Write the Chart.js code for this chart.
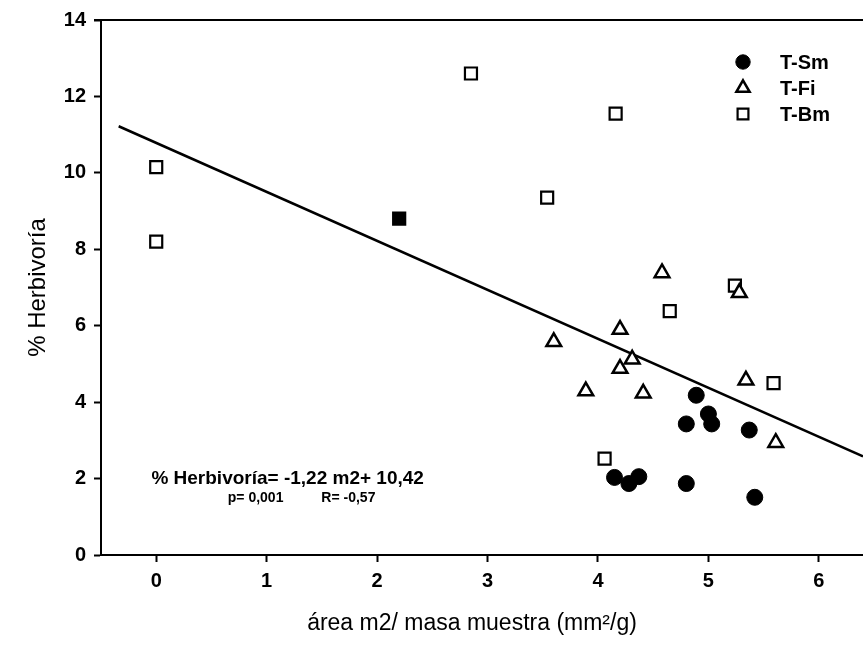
<!DOCTYPE html>
<html>
<head>
<meta charset="utf-8">
<title>% Herbivoría vs área/masa</title>
<script src="https://cdn.jsdelivr.net/npm/chart.js@4.4.0/dist/chart.umd.min.js"></script>
<style>
  html, body { margin: 0; padding: 0; background: #fff; }
  #wrap { width: 863px; height: 645px; }
</style>
</head>
<body>
<div id="wrap"><canvas id="herbChart" width="863" height="645"></canvas></div>
<script>
// Data
const xTicks = [0, 1, 2, 3, 4, 5, 6];
const yTicks = [0, 2, 4, 6, 8, 10, 12, 14];

const smX = [4.89, 5.00, 5.03, 4.80, 5.37, 4.15, 4.28, 4.37, 4.80, 5.42];
const smY = [4.18, 3.69, 3.43, 3.43, 3.27, 2.03, 1.87, 2.05, 1.87, 1.51];

const fiX = [4.58, 5.28, 4.20, 3.60, 4.31, 4.20, 3.89, 4.41, 5.34, 5.61];
const fiY = [7.38, 6.86, 5.90, 5.58, 5.12, 4.88, 4.29, 4.23, 4.57, 2.94];

const bmX = [0, 0, 2.85, 4.16, 3.54, 4.65, 5.24, 5.59, 4.06];
const bmY = [10.15, 8.2, 12.6, 11.55, 9.35, 6.38, 7.05, 4.5, 2.52];

// one T-Bm square is printed solid in the scan
const bmSolidX = [2.2];
const bmSolidY = [8.8];

// regression line as drawn
const fitX = [-0.34, 6.4];
const fitY = [11.22, 2.58];

const xTitle = 'área m2/ masa muestra (mm²/g)';
const eqMain = '% Herbivoría= -1,22 m2+ 10,42';
const eqP = 'p= 0,001';
const eqR = 'R= -0,57';

const FONT = "'Liberation Sans', Arial, sans-serif";

function pts(xs, ys) {
    return xs.map((v, i) => ({ x: v, y: ys[i] }));
}

// Legend drawn inside the plot, top right
const insideLegend = {
    id: 'insideLegend',
    afterDraw(chart) {
        const ctx = chart.ctx;
        ctx.save();
        ctx.font = 'bold 20px ' + FONT;
        ctx.textBaseline = 'middle';
        chart.data.datasets.slice(0, 3).forEach((ds, i) => {
            const yy = 62 + i * 26;
            ctx.lineWidth = ds.borderWidth;
            ctx.strokeStyle = ds.borderColor;
            ctx.fillStyle = ds.backgroundColor;
            Chart.helpers.drawPoint(ctx, {
                pointStyle: ds.pointStyle,
                radius: ds.pointRadius * 0.9,
                borderWidth: ds.borderWidth
            }, 743, yy);
            ctx.fillStyle = '#000';
            ctx.fillText(ds.label, 780, yy + 1);
        });
        ctx.restore();
    }
};

// top frame line, x title and regression text
const extras = {
    id: 'extras',
    afterDraw(chart) {
        const { ctx, chartArea, scales: { x, y } } = chart;
        ctx.save();
        ctx.strokeStyle = '#000';
        ctx.lineWidth = 2;
        ctx.beginPath();
        ctx.moveTo(chartArea.left - 7, chartArea.top);
        ctx.lineTo(chartArea.right, chartArea.top);
        ctx.stroke();

        ctx.fillStyle = '#000';
        ctx.textAlign = 'center';
        ctx.textBaseline = 'middle';
        ctx.font = '23px ' + FONT;
        ctx.fillText(xTitle, chartArea.left + 371, 624);

        ctx.font = 'bold 19px ' + FONT;
        ctx.fillText(eqMain, x.getPixelForValue(1.19), y.getPixelForValue(2.0));
        ctx.font = 'bold 14px ' + FONT;
        ctx.fillText(eqP, x.getPixelForValue(0.9), y.getPixelForValue(1.5));
        ctx.fillText(eqR, x.getPixelForValue(1.74), y.getPixelForValue(1.5));
        ctx.restore();
    }
};

const ctx = document.getElementById('herbChart').getContext('2d');

new Chart(ctx, {
    type: 'scatter',
    data: {
        datasets: [
            {
                label: 'T-Sm',
                data: pts(smX, smY),
                pointStyle: 'circle',
                pointRadius: 8,
                backgroundColor: '#000',
                borderColor: '#000',
                borderWidth: 1
            },
            {
                label: 'T-Fi',
                data: pts(fiX, fiY),
                pointStyle: 'triangle',
                pointRadius: 8.5,
                backgroundColor: '#fff',
                borderColor: '#000',
                borderWidth: 2.5
            },
            {
                label: 'T-Bm',
                data: pts(bmX, bmY),
                pointStyle: 'rect',
                pointRadius: 8.5,
                backgroundColor: '#fff',
                borderColor: '#000',
                borderWidth: 2.2
            },
            {
                label: 'T-Bm',
                data: pts(bmSolidX, bmSolidY),
                pointStyle: 'rect',
                pointRadius: 8.5,
                backgroundColor: '#000',
                borderColor: '#000',
                borderWidth: 2.2
            },
            {
                label: 'ajuste',
                data: pts(fitX, fitY),
                showLine: true,
                pointRadius: 0,
                borderColor: '#000',
                borderWidth: 2.5,
                order: 5
            }
        ]
    },
    options: {
        responsive: false,
        animation: false,
        layout: {
            autoPadding: false,
            padding: { top: 16, right: 0, left: 0, bottom: 0 }
        },
        plugins: {
            legend: { display: false },
            tooltip: { enabled: false }
        },
        scales: {
            x: {
                type: 'linear',
                min: -0.5,
                max: 6.4,
                afterBuildTicks: s => { s.ticks = xTicks.map(v => ({ value: v })); },
                afterFit: s => { s.height = 90; },
                grid: {
                    drawOnChartArea: false,
                    drawTicks: true,
                    tickLength: 7,
                    tickColor: '#000',
                    tickWidth: 2
                },
                border: { display: true, color: '#000', width: 2 },
                ticks: {
                    color: '#000',
                    padding: 7,
                    font: { family: FONT, size: 20, weight: 'bold' }
                },
                title: { display: false }
            },
            y: {
                min: 0,
                max: 14,
                afterBuildTicks: s => { s.ticks = yTicks.map(v => ({ value: v })); },
                afterFit: s => { s.width = 101; },
                grid: {
                    drawOnChartArea: false,
                    drawTicks: true,
                    tickLength: 7,
                    tickColor: '#000',
                    tickWidth: 2
                },
                border: { display: true, color: '#000', width: 2 },
                ticks: {
                    color: '#000',
                    padding: 8,
                    font: { family: FONT, size: 20, weight: 'bold' }
                },
                title: {
                    display: true,
                    text: '% Herbivoría',
                    color: '#000',
                    font: { family: FONT, size: 24 },
                    padding: { top: 24, bottom: 0 }
                }
            }
        }
    },
    plugins: [insideLegend, extras]
});
</script>
</body>
</html>
